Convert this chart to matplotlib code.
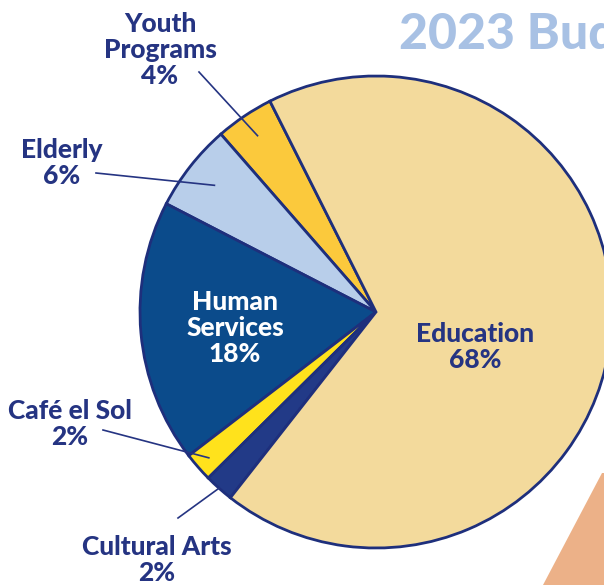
import matplotlib
matplotlib.use('Agg')
import matplotlib.pyplot as plt
import numpy as np
from matplotlib.patches import Polygon

# budget shares, in drawing order (counter-clockwise from the top)
labels = ['Youth\nPrograms', 'Elderly', 'Human\nServices', 'Café el Sol', 'Cultural Arts', 'Education']
shares = [4, 6, 18, 2, 2, 68]
colors = ['#FBC93C', '#B8CEEA', '#0B4B8B', '#FFE21C', '#223A87', '#F3DA9C']

navy = '#253482'
W, H = 604, 585

plt.rcParams['font.family'] = ['Lato', 'DejaVu Sans']

fig = plt.figure(figsize=(W / 100, H / 100), dpi=100)
ax = fig.add_axes([0, 0, 1, 1])

cx, cy, R = 376, H - 312, 236
wedges, _ = ax.pie(shares, colors=colors, startangle=116.7, counterclock=True,
                   center=(cx, cy), radius=R, frame=True,
                   wedgeprops=dict(edgecolor='#1E2F7C', linewidth=2))
ax.set_xlim(0, W)
ax.set_ylim(0, H)
ax.set_aspect('equal')
ax.axis('off')

# background photo corner
ax.add_patch(Polygon([[543, 0], [604, 0], [604, 112], [602, 112]], closed=True,
                     facecolor='#E9A473', edgecolor='none', alpha=0.85, zorder=0))

# title (cut off at the right edge, as in the flyer)
ax.text(399, H - 34, '2023 Budget', color='#A8C1E4', fontsize=36, fontweight='black',
        ha='left', va='center', clip_on=True)

def px(x, y):
    return x, H - y

# label text centres (px) and leader-line radius fraction
label_pos = {
    'Youth\nPrograms': ((160, 50), 0.90),
    'Elderly': ((62, 163), 0.87),
    'Café el Sol': ((70, 424), 0.94),
    'Cultural Arts': ((157, 560), 1.0),
}
line_start = {
    'Youth\nPrograms': (199, 72),
    'Elderly': (96, 173),
    'Café el Sol': (103, 430),
    'Cultural Arts': (178, 518),
}

fs = 19
for w, lab, s in zip(wedges, labels, shares):
    txt = f'{lab}\n{s}%'
    if lab in label_pos:
        (tx, ty), rf = label_pos[lab]
        ax.text(*px(tx, ty), txt, color=navy, fontsize=fs, fontweight='black',
                ha='center', va='center', linespacing=1.12)
        mid = np.deg2rad((w.theta1 + w.theta2) / 2)
        ex, ey = cx + rf * R * np.cos(mid), cy + rf * R * np.sin(mid)
        sx, sy = px(*line_start[lab])
        ax.plot([sx, ex], [sy, ey], color=navy, lw=1.2, zorder=5)

ax.text(*px(235, 328), 'Human\nServices\n18%', color='white', fontsize=fs,
        fontweight='black', ha='center', va='center', linespacing=1.12)
ax.text(*px(475, 347), 'Education\n68%', color=navy, fontsize=fs,
        fontweight='black', ha='center', va='center', linespacing=1.12)

fig.savefig('out.png', dpi=100)
